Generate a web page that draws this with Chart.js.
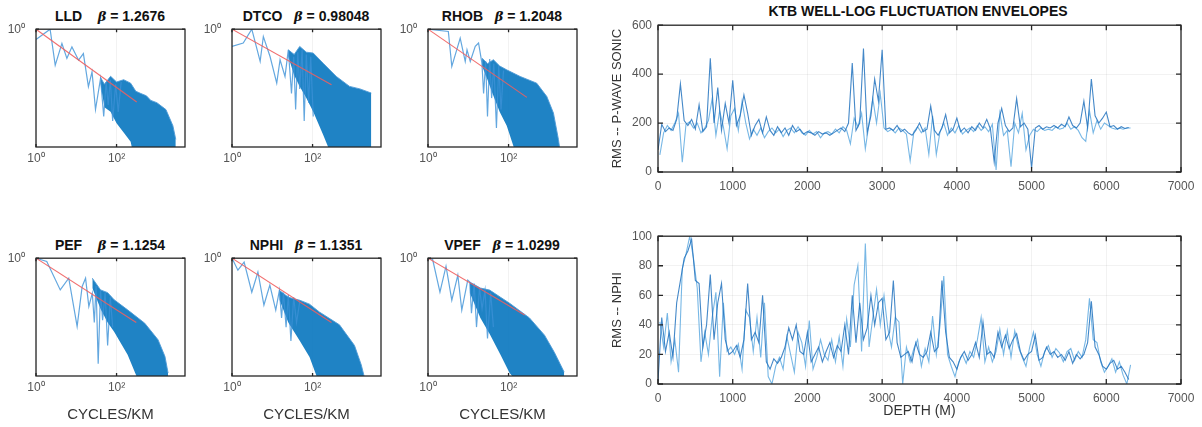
<!DOCTYPE html>
<html>
<head>
<meta charset="UTF-8">
<title>KTB well-log spectra and fluctuation envelopes</title>
<script src="https://cdn.jsdelivr.net/npm/chart.js"></script>
<style>
    body { margin: 0; background: #fff; }
    #wrap { position: relative; width: 1202px; height: 427px; overflow: hidden; font-family: "Liberation Sans", Arial, sans-serif; }
    #wrap canvas { position: absolute; }
    .ttl { position: absolute; transform: translate(-50%, -50%); white-space: nowrap; font-weight: bold; font-size: 14px; color: #111; }
    .ttl i { font-family: "DejaVu Serif", serif; font-size: 13px; }
</style>
</head>
<body>
<div id="wrap">
    <div class="ttl" style="left:110px; top:16px;">LLD&nbsp;&nbsp;&nbsp;&nbsp;<i>β</i> = 1.2676</div>
    <div class="ttl" style="left:306px; top:16px;">DTCO&nbsp;&nbsp;&nbsp;<i>β</i> = 0.98048</div>
    <div class="ttl" style="left:502px; top:16px;">RHOB&nbsp;&nbsp;&nbsp;<i>β</i> = 1.2048</div>
    <div class="ttl" style="left:110px; top:245px;">PEF&nbsp;&nbsp;&nbsp;&nbsp;<i>β</i> = 1.1254</div>
    <div class="ttl" style="left:306px; top:245px;">NPHI&nbsp;&nbsp;&nbsp;<i>β</i> = 1.1351</div>
    <div class="ttl" style="left:502px; top:245px;">VPEF&nbsp;&nbsp;&nbsp;<i>β</i> = 1.0299</div>
    <div class="ttl" style="left:918px; top:11px;">KTB WELL-LOG FLUCTUATION ENVELOPES</div>

    <canvas id="cLLD" width="197" height="158" style="left:0px; top:19px;"></canvas>
    <canvas id="cDTCO" width="197" height="158" style="left:196px; top:19px;"></canvas>
    <canvas id="cRHOB" width="197" height="158" style="left:392px; top:19px;"></canvas>
    <canvas id="cPEF" width="197" height="179" style="left:0px; top:248px;"></canvas>
    <canvas id="cNPHI" width="197" height="179" style="left:196px; top:248px;"></canvas>
    <canvas id="cVPEF" width="197" height="179" style="left:392px; top:248px;"></canvas>
    <canvas id="cSonic" width="602" height="188" style="left:600px; top:12px;"></canvas>
    <canvas id="cNphiEnv" width="602" height="204" style="left:600px; top:223px;"></canvas>
</div>

<script>
    // ---- power spectra: frequency in cycles/km, power as log10 of normalised power ----
    // low-frequency trace (with the first spikes that run into the dense band)
    const lldLowF = [1, 2.24, 3.0, 4.4, 5.85, 7.8, 11.4, 15, 20, 24.6, 30, 40, 48, 55, 62, 70, 80, 95, 110, 130];
    const lldLowP = [-0.45, 0, -1.57, -0.62, -1.27, -0.77, -1.35, -1.06, -2.5, -1.86, -3.5, -2.14, -3.8, -2.3, -3.3, -2.2, -4.0, -2.4, -3.6, -2.3];
    // dense high-frequency band: upper and lower envelope
    const lldBandF = [40, 50, 71, 100, 150, 224, 300, 400, 550, 708, 1000, 1680, 2500, 2950];
    const lldBandHi = [-2.1, -2.4, -2.05, -2.3, -2.2, -2.35, -2.7, -2.8, -2.9, -3.1, -3.2, -3.5, -4.2, -4.8];
    const lldBandLo = [-2.4, -3.4, -3.6, -4.1, -4.5, -4.9, -6, -6, -6, -6, -6, -6, -6, -6];
    const lldFit = [316, -3.17];

    const dtcoLowF = [1, 1.9, 3.1, 5, 6, 8.8, 12.9, 15.6, 20.7, 25, 30, 34, 38, 43, 48, 55, 62, 70, 80, 90, 104];
    const dtcoLowP = [-0.75, -0.6, 0, -1.4, -0.32, -1.19, -2.35, -1.33, -2.06, -0.9, -2.8, -1.2, -3.5, -1.0, -2.6, -0.9, -4.0, -1.1, -3.2, -1.2, -3.8];
    const dtcoBandF = [25, 35, 48, 70, 104, 183, 390, 830, 1500, 2870];
    const dtcoBandHi = [-0.9, -1.1, -0.75, -1.0, -1.04, -1.48, -2.06, -2.49, -2.6, -2.78];
    const dtcoBandLo = [-1.2, -2.0, -2.5, -3.0, -3.6, -4.6, -6, -6, -6, -6];
    const dtcoFit = [295, -2.42];

    const rhobLowF = [1, 3.2, 3.9, 6.3, 8.4, 9.3, 11.2, 14.9, 18, 21.8, 24, 27, 30, 34, 38, 43, 50, 57, 65, 75];
    const rhobLowP = [0, -0.1, -1.62, -0.39, -1.4, -0.9, -1.4, -0.75, -0.6, -1.48, -2.8, -1.4, -3.8, -1.3, -3.0, -1.5, -4.3, -1.6, -3.5, -1.8];
    const rhobBandF = [22, 30, 42, 60, 90, 195, 500, 890, 1300, 1730, 1900];
    const rhobBandHi = [-1.26, -1.5, -1.33, -1.6, -1.77, -2.06, -2.35, -2.93, -3.65, -4.8, -5.3];
    const rhobBandLo = [-1.6, -2.2, -2.9, -3.6, -4.2, -6, -6, -6, -6, -6, -6];
    const rhobFit = [285, -2.97];

    const pefLowF = [1, 1.85, 4, 6.5, 10.5, 14, 17, 20.5, 25, 28, 31, 35, 40, 45, 52, 60, 70, 80];
    const pefLowP = [0, -0.14, -1.38, -0.87, -2.97, -1.23, -0.87, -2.1, -1.52, -2.8, -1.2, -4.6, -1.4, -2.7, -1.5, -3.8, -1.7, -3.0];
    const pefBandF = [25, 40, 60, 87, 188, 500, 1070, 1590, 1900];
    const pefBandHi = [-0.87, -1.38, -1.5, -1.81, -2.25, -2.83, -3.55, -4.28, -5.0];
    const pefBandLo = [-1.3, -2.2, -2.8, -3.2, -4.2, -6, -6, -6, -6];
    const pefFit = [308, -2.8];

    const nphiLowF = [1, 1.4, 2, 3.1, 4.4, 6.2, 8.7, 12.2, 15, 17, 19, 22, 25, 29, 34, 40, 48];
    const nphiLowP = [0, -0.52, -0.17, -1.48, -0.6, -2.04, -1.17, -2.26, -1.4, -2.6, -1.5, -3.0, -1.6, -3.6, -1.7, -2.8, -1.9];
    const nphiBandF = [15, 25, 48, 84, 150, 465, 1100, 1620, 1900];
    const nphiBandHi = [-1.4, -1.7, -1.83, -2.0, -2.35, -2.9, -3.8, -4.65, -5.13];
    const nphiBandLo = [-1.8, -2.8, -3.6, -4.3, -5.5, -6, -6, -6, -6];
    const nphiFit = [295, -2.8];

    const vpefLowF = [1, 1.3, 1.98, 2.8, 3.9, 5.5, 6.9, 9.7, 10.9, 12, 14, 16, 19, 22, 26, 30, 36, 42];
    const vpefLowP = [0, -0.05, -1.48, -0.35, -1.83, -0.74, -2.26, -0.96, -1.04, -2.4, -1.1, -3.0, -1.3, -2.2, -1.4, -3.5, -1.5, -3.0];
    const vpefBandF = [10.9, 20, 34, 63, 106, 330, 780, 1370, 2400];
    const vpefBandHi = [-1.04, -1.3, -1.39, -1.7, -1.96, -2.6, -3.35, -4.1, -4.96];
    const vpefBandLo = [-1.5, -2.6, -3.3, -4.2, -5.0, -6, -6, -6, -6];
    const vpefFit = [250, -2.47];

    const freqTicks = [1, 100];

    // ---- fluctuation envelopes vs depth (m); dark trace every 50 m from 0, light trace every 50 m from 25 ----
    const depthStep = 50;
    const sonicDark = [90, 195, 165, 180, 170, 215, 360, 210, 190, 215, 175, 275, 165, 185, 465, 200,
        345, 170, 280, 200, 375, 190, 230, 315, 240, 150, 190, 215, 160, 225, 170, 150,
        185, 160, 180, 150, 190, 165, 175, 155, 165, 160, 150, 165, 155, 160, 150, 160,
        170, 180, 165, 200, 445, 170, 200, 505, 160, 230, 380, 290, 500, 175, 180, 170,
        190, 165, 175, 160, 150, 170, 200, 165, 175, 270, 170, 150, 180, 235, 160, 175,
        220, 165, 180, 160, 185, 170, 200, 180, 215, 175, 40, 200, 260, 190, 165, 180,
        300, 185, 200, 175, 16, 180, 190, 175, 185, 180, 190, 180, 195, 185, 225, 190,
        180, 200, 290, 180, 380, 230, 200, 220, 245, 185, 190, 175, 185, 178, 182];
    const sonicLight = [70, 160, 190, 170, 200, 240, 40, 195, 205, 180, 200, 160, 180, 210, 300, 150,
        250, 185, 95, 230, 260, 170, 290, 200, 135, 175, 150, 180, 140, 165, 180, 160,
        175, 145, 170, 180, 160, 185, 160, 150, 170, 155, 165, 140, 160, 165, 155, 175,
        160, 185, 170, 115, 220, 185, 240, 95, 200, 300, 200, 320, 180, 165, 175, 160,
        180, 170, 155, 46, 165, 185, 160, 180, 72, 230, 72, 165, 200, 150, 180, 160,
        190, 155, 170, 180, 165, 190, 170, 185, 165, 195, 8, 240, 150, 170, 22, 200,
        160, 240, 90, 150, 175, 165, 180, 170, 175, 170, 185, 175, 180, 200, 175, 185,
        170, 140, 125, 250, 160, 210, 175, 200, 190, 180, 175, 180, 175, 180, 180];
    const nphiDark = [2, 45, 22, 35, 18, 55, 70, 85, 90, 98, 70, 68, 25, 40, 74, 30,
        55, 68, 30, 20, 22, 26, 18, 30, 68, 30, 35, 28, 60, 15, 10, 17,
        14, 18, 25, 38, 30, 40, 22, 20, 35, 15, 20, 25, 15, 22, 28, 18,
        26, 22, 40, 20, 60, 28, 55, 30, 38, 60, 40, 55, 58, 30, 35, 70,
        28, 18, 20, 22, 15, 28, 20, 18, 22, 35, 22, 25, 70, 35, 18, 15,
        10, 18, 22, 16, 20, 28, 18, 42, 20, 22, 18, 35, 25, 33, 24, 30,
        34, 22, 16, 20, 22, 33, 16, 18, 25, 20, 22, 18, 20, 16, 22, 14,
        20, 17, 20, 28, 56, 25, 20, 12, 10, 14, 16, 10, 12, 8, 3];
    const nphiLight = [42, 25, 48, 15, 30, 8, 78, 88, 100, 85, 65, 15, 35, 20, 45, 62,
        5, 55, 22, 25, 20, 27, 10, 50, 45, 22, 45, 18, 55, 5, 0, 12,
        18, 10, 32, 20, 8, 35, 28, 12, 43, 10, 18, 30, 20, 16, 30, 15,
        32, 12, 44, 25, 67, 80, 22, 95, 25, 45, 64, 40, 60, 38, 25, 45,
        42, 0, 25, 15, 24, 30, 12, 24, 15, 46, 20, 40, 73, 20, 12, 5,
        15, 20, 14, 22, 18, 30, 45, 15, 25, 15, 22, 37, 20, 36, 18, 36,
        25, 18, 12, 25, 35, 20, 12, 22, 26, 18, 24, 21, 15, 22, 24, 16,
        22, 18, 30, 58, 30, 28, 15, 8, 12, 17, 8, 15, 6, 0, 13];

    const pow10 = (xs, ys) => xs.map((x, i) => ({ x: x, y: Math.pow(10, ys[i]) }));
    const depthSeries = (vals, start) => vals.map((v, i) => ({ x: start + i * depthStep, y: v }));

    // box round the plot area with small inward ticks, matlab style
    const framePlugin = {
        id: 'frame',
        afterDraw(chart, args, opts) {
            const ctx = chart.ctx;
            const a = chart.chartArea;
            const len = opts.tick || 4;
            ctx.save();
            ctx.strokeStyle = '#262626';
            ctx.lineWidth = 1.3;
            ctx.beginPath();
            chart.scales.x.ticks.forEach(t => {
                const px = chart.scales.x.getPixelForValue(t.value);
                ctx.moveTo(px, a.bottom); ctx.lineTo(px, a.bottom - len);
                ctx.moveTo(px, a.top); ctx.lineTo(px, a.top + len);
            });
            chart.scales.y.ticks.forEach(t => {
                const py = chart.scales.y.getPixelForValue(t.value);
                ctx.moveTo(a.left, py); ctx.lineTo(a.left + len, py);
                ctx.moveTo(a.right, py); ctx.lineTo(a.right - len, py);
            });
            ctx.stroke();
            ctx.strokeRect(a.left, a.top, a.right - a.left, a.bottom - a.top);
            ctx.restore();
        }
    };
    Chart.register(framePlugin);

    const tickFont = { family: '"Liberation Sans", Arial, sans-serif', size: 12 };
    const tickColor = '#555';

    function makeSpectrum(id, lowF, lowP, bandF, bandHi, bandLo, fit, bottomRow) {
        new Chart(document.getElementById(id), {
            type: 'line',
            data: {
                datasets: [{
                    data: pow10([1, fit[0]], [0, fit[1]]),
                    borderColor: 'rgba(240,95,95,0.9)',
                    borderWidth: 1.1,
                    pointRadius: 0
                }, {
                    data: pow10(lowF, lowP),
                    borderColor: 'rgba(60,145,215,0.8)',
                    borderWidth: 1.2,
                    pointRadius: 0
                }, {
                    data: pow10(bandF, bandHi),
                    borderColor: 'rgba(80,155,215,0.9)',
                    borderWidth: 1,
                    pointRadius: 0,
                    fill: '+1',
                    backgroundColor: 'rgba(0,114,189,0.88)'
                }, {
                    data: pow10(bandF, bandLo),
                    borderWidth: 0,
                    pointRadius: 0
                }]
            },
            options: {
                responsive: false,
                animation: false,
                layout: { padding: { top: 10, right: 12, left: 0, bottom: 0 } },
                plugins: { legend: { display: false }, tooltip: { enabled: false }, frame: { tick: 3 } },
                scales: {
                    x: {
                        type: 'logarithmic',
                        min: 1,
                        max: 5000,
                        afterBuildTicks: s => { s.ticks = freqTicks.map(v => ({ value: v })); },
                        afterFit: s => { s.height = bottomRow ? 51 : 30; },
                        ticks: {
                            font: { family: tickFont.family, size: 12 },
                            color: tickColor,
                            padding: 4,
                            maxRotation: 0,
                            callback: v => (v === 1 ? '10⁰' : '10²')
                        },
                        grid: { drawTicks: false, color: 'rgba(0,0,0,0.05)' },
                        border: { display: false },
                        title: {
                            display: bottomRow,
                            text: 'CYCLES/KM',
                            color: '#333',
                            font: { family: tickFont.family, size: 15 },
                            padding: { top: 0, bottom: 3 }
                        }
                    },
                    y: {
                        type: 'logarithmic',
                        min: Math.pow(10, -5.13),
                        max: 1,
                        afterBuildTicks: s => { s.ticks = [{ value: 1 }]; },
                        afterFit: s => { s.width = 36; },
                        ticks: {
                            font: { family: tickFont.family, size: 12 },
                            color: tickColor,
                            padding: 3,
                            callback: () => '10⁰'
                        },
                        grid: { display: false },
                        border: { display: false }
                    }
                }
            }
        });
    }

    makeSpectrum('cLLD', lldLowF, lldLowP, lldBandF, lldBandHi, lldBandLo, lldFit, false);
    makeSpectrum('cDTCO', dtcoLowF, dtcoLowP, dtcoBandF, dtcoBandHi, dtcoBandLo, dtcoFit, false);
    makeSpectrum('cRHOB', rhobLowF, rhobLowP, rhobBandF, rhobBandHi, rhobBandLo, rhobFit, false);
    makeSpectrum('cPEF', pefLowF, pefLowP, pefBandF, pefBandHi, pefBandLo, pefFit, true);
    makeSpectrum('cNPHI', nphiLowF, nphiLowP, nphiBandF, nphiBandHi, nphiBandLo, nphiFit, true);
    makeSpectrum('cVPEF', vpefLowF, vpefLowP, vpefBandF, vpefBandHi, vpefBandLo, vpefFit, true);

    function makeEnvelope(id, dark, light, yMax, yStep, yTitle, xTitle) {
        new Chart(document.getElementById(id), {
            type: 'line',
            data: {
                datasets: [{
                    data: depthSeries(dark, 0),
                    borderColor: 'rgba(35,115,190,0.85)',
                    borderWidth: 1.1,
                    pointRadius: 0
                }, {
                    data: depthSeries(light, 25),
                    borderColor: 'rgba(95,170,225,0.85)',
                    borderWidth: 1.1,
                    pointRadius: 0
                }]
            },
            options: {
                responsive: false,
                animation: false,
                layout: { padding: { top: 10, right: 21, left: 0, bottom: 0 } },
                plugins: { legend: { display: false }, tooltip: { enabled: false }, frame: { tick: 5 } },
                scales: {
                    x: {
                        type: 'linear',
                        min: 0,
                        max: 7000,
                        afterFit: s => { s.height = xTitle ? 43 : 28; },
                        ticks: { stepSize: 1000, font: tickFont, color: tickColor, padding: 7, maxRotation: 0, callback: v => String(v) },
                        grid: { drawTicks: false, color: 'rgba(0,0,0,0.05)' },
                        border: { display: false },
                        title: {
                            display: !!xTitle,
                            text: xTitle,
                            color: '#333',
                            font: { family: tickFont.family, size: 14 },
                            padding: { top: 0, bottom: 7 }
                        }
                    },
                    y: {
                        min: 0,
                        max: yMax,
                        afterFit: s => { s.width = 58; },
                        ticks: { stepSize: yStep, font: tickFont, color: tickColor, padding: 6 },
                        grid: { drawTicks: false, color: 'rgba(0,0,0,0.05)' },
                        border: { display: false },
                        title: {
                            display: true,
                            text: yTitle,
                            color: '#333',
                            font: { family: tickFont.family, size: 13 },
                            padding: { top: 10, bottom: 0 }
                        }
                    }
                }
            }
        });
    }

    makeEnvelope('cSonic', sonicDark, sonicLight, 600, 200, 'RMS -- P-WAVE SONIC', '');
    makeEnvelope('cNphiEnv', nphiDark, nphiLight, 100, 20, 'RMS -- NPHI', 'DEPTH (M)');
</script>
</body>
</html>
